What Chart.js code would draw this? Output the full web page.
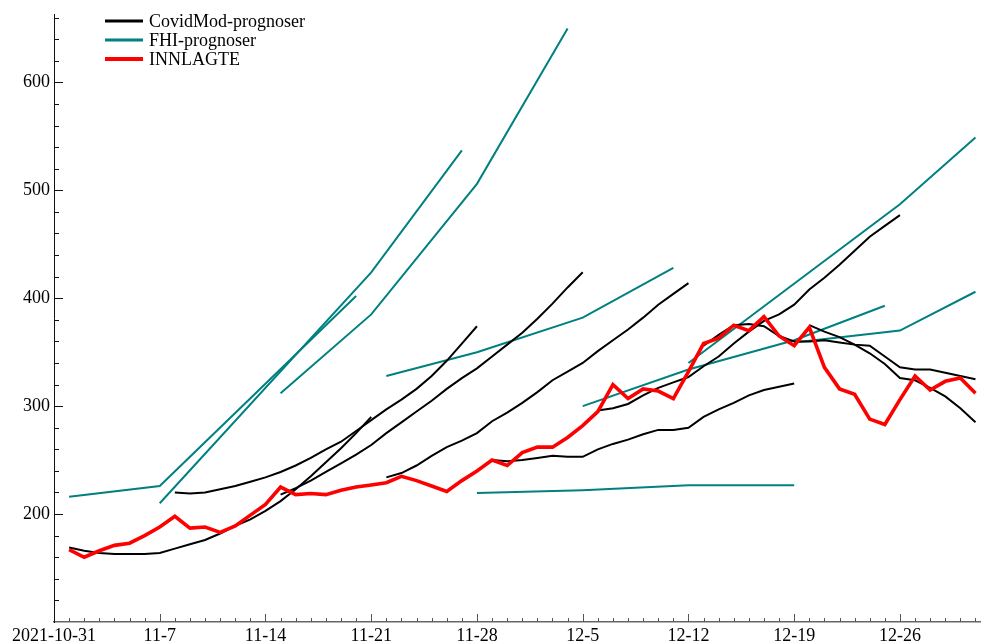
<!DOCTYPE html>
<html>
<head>
<meta charset="utf-8">
<script src="https://cdn.jsdelivr.net/npm/chart.js@4/dist/chart.umd.min.js"></script>
<style>
  html, body { margin: 0; padding: 0; background: #fff; }
  #wrap { width: 982px; height: 643px; }
</style>
</head>
<body>
<div id="wrap"><canvas id="c" width="982" height="643"></canvas></div>
<script>
// Day 0 of the time axis
const ORIGIN = '2021-10-31';

// x-axis tick labels, one per week starting at ORIGIN
const tickLabels = ['2021-10-31', '11-7', '11-14', '11-21', '11-28', '12-5', '12-12', '12-19', '12-26'];

// Hospitalised patients (INNLAGTE), daily from 2021-11-01
const innlagteStart = '2021-11-01';
const innlagte = [167, 160, 166, 171, 173, 180, 188, 198, 187, 188, 183, 189, 199, 209, 225, 218,
  219, 218, 222, 225, 227, 229, 235, 231, 226, 221, 231, 240, 250, 245, 257, 262, 262, 271, 282,
  295, 320, 307, 316, 314, 307, 332, 358, 363, 375, 370, 383, 365, 356, 373, 336, 316, 311, 288,
  283, 306, 328, 315, 323, 326, 312];

// CovidMod forecasts: daily values from each start date
const covidModStarts = ['2021-11-01', '2021-11-08', '2021-11-15', '2021-11-22', '2021-11-29',
  '2021-12-06', '2021-12-13', '2021-12-20'];
const covidMod1 = [169, 166, 164, 163, 163, 163, 164, 168, 172, 176, 182, 189, 195, 203, 212, 223, 235, 248, 261, 275, 290];
const covidMod2 = [220, 219, 220, 223, 226, 230, 234, 239, 245, 252, 260, 267, 277, 287, 297, 306, 316, 328, 342, 358, 374];
const covidMod3 = [218, 224, 231, 239, 247, 255, 264, 275, 285, 295, 305, 316, 326, 335, 346, 357, 368, 381, 395, 410, 424];
const covidMod4 = [234, 238, 245, 254, 262, 268, 275, 286, 294, 303, 313, 324, 332, 340, 351, 361, 371, 382, 394, 404, 414];
const covidMod5 = [250, 249, 250, 252, 254, 253, 253, 260, 265, 269, 274, 278, 278, 280, 290, 297, 303, 310, 315, 318, 321];
const covidMod6 = [296, 298, 302, 310, 317, 322, 327, 337, 346, 358, 369, 379, 385, 394, 408, 419, 431, 444, 457, 467, 477];
const covidMod7 = [356, 366, 375, 376, 374, 365, 360, 360, 361, 359, 357, 356, 346, 336, 334, 334, 331, 328, 325];
const covidMod8 = [375, 369, 364, 357, 349, 339, 326, 324, 317, 309, 298, 285];
const covidModValues = [covidMod1, covidMod2, covidMod3, covidMod4, covidMod5, covidMod6, covidMod7, covidMod8];

// FHI forecasts: dates and values of each forecast's points
const fhiDates1 = ['2021-11-01', '2021-11-07', '2021-11-20'];
const fhiValues1 = [216, 226, 402];
const fhiDates2 = ['2021-11-07', '2021-11-21', '2021-11-27'];
const fhiValues2 = [210, 424, 537];
const fhiDates3 = ['2021-11-15', '2021-11-21', '2021-11-28', '2021-12-04'];
const fhiValues3 = [312, 385, 506, 650];
const fhiDates4 = ['2021-11-22', '2021-11-28', '2021-12-05', '2021-12-11'];
const fhiValues4 = [328, 350, 382, 428];
const fhiDates5 = ['2021-11-28', '2021-12-05', '2021-12-12', '2021-12-19'];
const fhiValues5 = [219.5, 222, 226.6, 226.6];
const fhiDates6 = ['2021-12-05', '2021-12-12', '2021-12-19', '2021-12-25'];
const fhiValues6 = [300, 334, 361, 393];
const fhiDates7 = ['2021-12-12', '2021-12-26', '2021-12-31'];
const fhiValues7 = [340, 487, 549];
const fhiDates8 = ['2021-12-19', '2021-12-26', '2021-12-31'];
const fhiValues8 = [359, 370, 406];
const fhiDates = [fhiDates1, fhiDates2, fhiDates3, fhiDates4, fhiDates5, fhiDates6, fhiDates7, fhiDates8];
const fhiValues = [fhiValues1, fhiValues2, fhiValues3, fhiValues4, fhiValues5, fhiValues6, fhiValues7, fhiValues8];

const COLORS = { covid: '#000000', fhi: '#008080', inn: '#ff0000' };
const FONT = 'Liberation Serif, Times New Roman, serif';

function dayOf(s) {
  return (Date.parse(s + 'T00:00:00Z') - Date.parse(ORIGIN + 'T00:00:00Z')) / 86400000;
}
function dailySeries(start, values) {
  const d0 = dayOf(start);
  return values.map((v, i) => ({ x: d0 + i, y: v }));
}

const datasets = [];
datasets.push({
  label: 'INNLAGTE', data: dailySeries(innlagteStart, innlagte),
  borderColor: COLORS.inn, borderWidth: 3.6, order: 0
});
covidModValues.forEach((vals, i) => datasets.push({
  label: 'CovidMod-prognoser', data: dailySeries(covidModStarts[i], vals),
  borderColor: COLORS.covid, borderWidth: 2, order: 1
}));
fhiValues.forEach((vals, i) => datasets.push({
  label: 'FHI-prognoser', data: vals.map((v, j) => ({ x: dayOf(fhiDates[i][j]), y: v })),
  borderColor: COLORS.fhi, borderWidth: 2, order: 2
}));

// Inward tick marks: minor every day / 20 units, major every week / 100 units
const tickMarks = {
  id: 'tickMarks',
  afterDraw(chart) {
    const { ctx, chartArea: a, scales: { x, y } } = chart;
    ctx.save();
    ctx.lineWidth = 1;
    ctx.strokeStyle = '#555';
    ctx.beginPath();
    for (let d = 1; d <= Math.floor(x.max); d++) {
      const px = Math.round(x.getPixelForValue(d)) + 0.5;
      const len = d % 7 === 0 ? 8 : 4;
      ctx.moveTo(px, a.bottom);
      ctx.lineTo(px, a.bottom - len);
    }
    ctx.stroke();
    ctx.strokeStyle = '#111';
    ctx.beginPath();
    for (let v = 120; v <= y.max; v += 20) {
      const py = Math.round(y.getPixelForValue(v)) + 0.5;
      const len = v % 100 === 0 ? 9 : 5;
      ctx.moveTo(a.left, py);
      ctx.lineTo(a.left + len, py);
    }
    ctx.stroke();
    ctx.restore();
  }
};

// One legend entry per group of lines
const groupLegend = {
  id: 'groupLegend',
  afterDraw(chart) {
    const { ctx } = chart;
    const items = [
      { text: 'CovidMod-prognoser', color: COLORS.covid, w: 3 },
      { text: 'FHI-prognoser', color: COLORS.fhi, w: 3 },
      { text: 'INNLAGTE', color: COLORS.inn, w: 4 }
    ];
    ctx.save();
    ctx.font = '18px ' + FONT;
    ctx.textBaseline = 'middle';
    ctx.textAlign = 'left';
    items.forEach((it, i) => {
      const yy = 21 + i * 19;
      ctx.strokeStyle = it.color;
      ctx.lineWidth = it.w;
      ctx.beginPath();
      ctx.moveTo(105, yy);
      ctx.lineTo(143, yy);
      ctx.stroke();
      ctx.fillStyle = '#000';
      ctx.fillText(it.text, 149, yy + 1);
    });
    ctx.restore();
  }
};

new Chart(document.getElementById('c'), {
  type: 'line',
  data: { datasets },
  options: {
    responsive: false,
    animation: false,
    devicePixelRatio: 1,
    layout: { padding: { top: 13, right: 2, left: 0, bottom: 0 } },
    elements: { point: { radius: 0 }, line: { tension: 0, fill: false } },
    plugins: { legend: { display: false }, tooltip: { enabled: false } },
    scales: {
      x: {
        type: 'linear', min: 0, max: 61.3,
        grid: { display: false, drawTicks: false },
        border: { display: true, color: '#666', width: 1.5 },
        afterFit(s) { s.height = 21; },
        ticks: {
          stepSize: 7, includeBounds: false, autoSkip: false, maxRotation: 0,
          padding: 3, color: '#000', font: { family: FONT, size: 18 },
          callback: v => tickLabels[Math.round(v / 7)] ?? ''
        }
      },
      y: {
        type: 'linear', min: 100, max: 662.6,
        grid: { display: false, drawTicks: false },
        border: { display: true, color: '#111', width: 1 },
        afterFit(s) { s.width = 54; },
        ticks: {
          stepSize: 100, includeBounds: false,
          padding: 4, color: '#000', font: { family: FONT, size: 18 },
          callback: v => (v >= 200 ? String(v) : '')
        }
      }
    }
  },
  plugins: [tickMarks, groupLegend]
});
</script>
</body>
</html>
